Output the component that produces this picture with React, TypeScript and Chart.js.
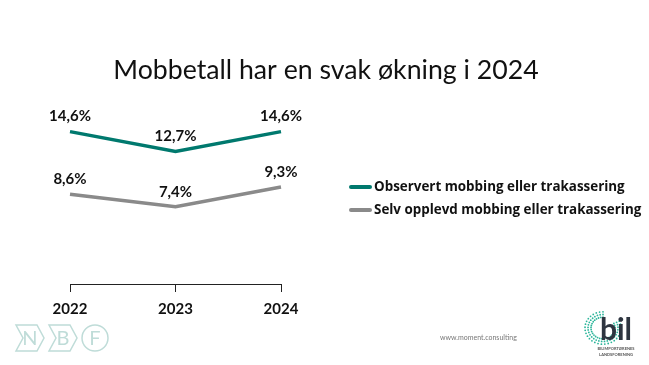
import React, { useEffect, useRef } from "react";
import { Chart, registerables } from "chart.js";

Chart.register(...registerables);

const categories = ["2022", "2023", "2024"];
const observed = [14.6, 12.7, 14.6];
const selfExperienced = [8.6, 7.4, 9.3];
const seriesNames = ["Observert mobbing eller trakassering", "Selv opplevd mobbing eller trakassering"];
const seriesColors = ["#00796E", "#8A8A8A"];
const titleText = "Mobbetall har en svak økning i 2024";
const footerText = "www.moment.consulting";

const FONT = "Lato, 'Open Sans', sans-serif";
const LFONT = "'Open Sans', Lato, sans-serif";

const fmt = (v: number) => v.toFixed(1).replace(".", ",") + "%";

const overlayPlugin = {
  id: "overlay",
  afterDatasetsDraw(chart: any) {
    const ctx = chart.ctx;
    ctx.save();
    // data labels
    chart.data.datasets.forEach((ds: any, i: number) => {
      const meta = chart.getDatasetMeta(i);
      meta.data.forEach((pt: any, j: number) => {
        ctx.font = `bold 15px ${FONT}`;
        ctx.fillStyle = "#111";
        ctx.textAlign = "center";
        ctx.textBaseline = "middle";
        ctx.fillText(fmt(ds.data[j]), pt.x, pt.y - 15);
      });
    });
    // title
    ctx.font = `26.7px ${FONT}`;
    ctx.fillStyle = "#111";
    ctx.textAlign = "center";
    ctx.textBaseline = "middle";
    ctx.fillText(titleText, 326, 70);
    // legend
    seriesNames.forEach((name, i) => {
      const y = 187 + i * 23;
      ctx.strokeStyle = seriesColors[i];
      ctx.lineWidth = 4;
      ctx.lineCap = "round";
      ctx.beginPath();
      ctx.moveTo(351, y);
      ctx.lineTo(370, y);
      ctx.stroke();
      ctx.font = `bold 13.4px ${LFONT}`;
      ctx.fillStyle = "#111";
      ctx.textAlign = "left";
      ctx.textBaseline = "middle";
      ctx.fillText(name, 374, y);
    });
    // footer
    ctx.font = `7px ${FONT}`;
    ctx.fillStyle = "#777";
    ctx.textAlign = "left";
    ctx.textBaseline = "middle";
    ctx.fillText(footerText, 440, 338);
    // NBXF logo
    const lc = "#BFDCD8";
    ctx.strokeStyle = lc;
    ctx.lineWidth = 1.5;
    const letters = ["N", "B", "F"];
    const xs = [30, 63, 95];
    xs.forEach((x, k) => {
      ctx.beginPath();
      if (k === 2) {
        ctx.arc(x, 338, 13, 0, Math.PI * 2);
      } else {
        ctx.moveTo(x - 14, 325);
        ctx.lineTo(x + 7, 325);
        ctx.lineTo(x + 14, 338);
        ctx.lineTo(x + 7, 351);
        ctx.lineTo(x - 14, 351);
        ctx.lineTo(x - 7, 338);
        ctx.closePath();
      }
      ctx.stroke();
      ctx.font = `20px ${FONT}`;
      ctx.fillStyle = lc;
      ctx.textAlign = "center";
      ctx.textBaseline = "middle";
      ctx.fillText(letters[k], x, 339);
    });
    // bil logo
    ctx.fillStyle = "#2BB59A";
    for (let a = 0; a < 28; a++) {
      const ang = Math.PI * 0.5 + (a / 28) * Math.PI * 1.7;
      for (let r = 0; r < 3; r++) {
        const rad = 12 + r * 3;
        ctx.beginPath();
        ctx.arc(603 + Math.cos(ang) * rad, 328 - Math.sin(ang) * rad * 0.9, 0.9, 0, Math.PI * 2);
        ctx.fill();
      }
    }
    ctx.font = `bold 30px ${FONT}`;
    ctx.fillStyle = "#2E3540";
    ctx.textAlign = "center";
    ctx.textBaseline = "alphabetic";
    ctx.fillText("bil", 616, 340);
    ctx.font = `bold 4px ${FONT}`;
    ctx.fillStyle = "#555";
    ctx.fillText("BILIMPORTØRENES", 616, 350);
    ctx.fillText("LANDSFORENING", 616, 356);
    ctx.restore();
  },
};

export default function App() {
  const ref = useRef<HTMLCanvasElement>(null);
  useEffect(() => {
    document.body.style.margin = "0";
    const chart = new Chart(ref.current!, {
      type: "line",
      data: {
        labels: categories,
        datasets: [
          { label: seriesNames[0], data: observed, borderColor: seriesColors[0], borderWidth: 3.5, pointRadius: 0, tension: 0 },
          { label: seriesNames[1], data: selfExperienced, borderColor: seriesColors[1], borderWidth: 3.5, pointRadius: 0, tension: 0 },
        ],
      },
      options: {
        responsive: false,
        animation: false,
        layout: { padding: { left: 70, right: 368, top: 117, bottom: 51 } },
        plugins: { legend: { display: false }, tooltip: { enabled: false }, title: { display: false } },
        scales: {
          y: { display: false, min: 0, max: 16 },
          x: {
            offset: false,
            afterFit: (s: any) => { s.height = 30; },
            grid: { drawOnChartArea: false, tickLength: 8, color: "#222" },
            border: { color: "#222", width: 1 },
            ticks: { color: "#111", font: { family: FONT, size: 15, weight: "bold" }, padding: 8, maxRotation: 0 },
          },
        },
      },
      plugins: [overlayPlugin],
    });
    return () => chart.destroy();
  }, []);
  return <canvas ref={ref} width={649} height={365} style={{ display: "block", background: "#fff" }} />;
}
